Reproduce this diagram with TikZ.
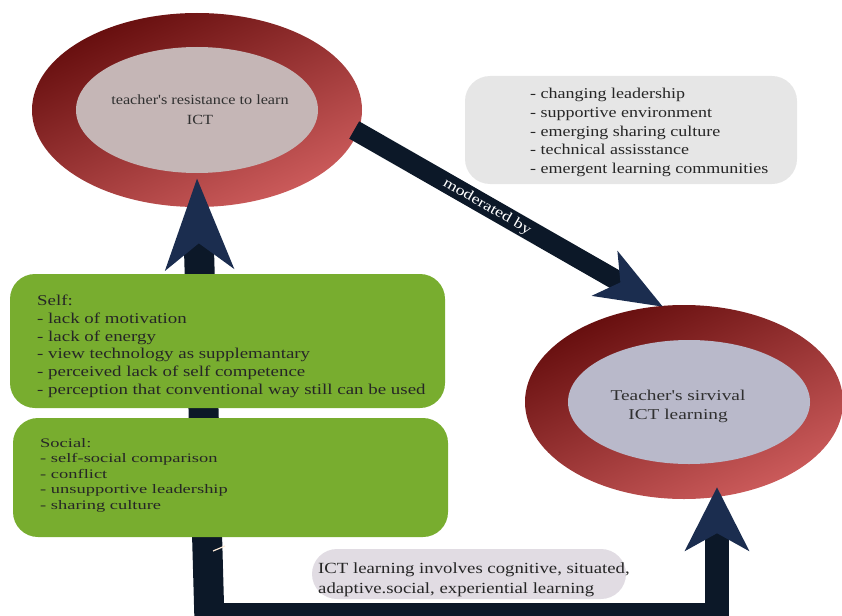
\documentclass[tikz,border=0pt]{standalone}
\usepackage{fontspec}
\setmainfont{Liberation Serif}
\newfontfamily\fTop{Liberation Serif}[FakeStretch=1.16]
\newfontfamily\fBot{Liberation Serif}[FakeStretch=1.29]
\newfontfamily\fGray{Liberation Serif}[FakeStretch=1.2]
\newfontfamily\fSelf{Liberation Serif}[FakeStretch=1.26]
\newfontfamily\fSocial{Liberation Serif}[FakeStretch=1.42]
\newfontfamily\fIct{Liberation Serif}[FakeStretch=1.21]
\newfontfamily\fMod{Liberation Serif}[FakeStretch=1.25]
\usetikzlibrary{shapes.geometric,arrows.meta,calc}
\definecolor{ringdark}{HTML}{650D0D}
\definecolor{ringlight}{HTML}{CD5C5C}
\definecolor{innerA}{HTML}{C5B6B6}
\definecolor{innerB}{HTML}{B9B9CA}
\definecolor{shaftc}{HTML}{0C1828}
\definecolor{headc}{HTML}{1B2D4F}
\definecolor{greenbox}{HTML}{78AD2F}
\definecolor{graybox}{HTML}{E6E6E6}
\definecolor{lavbox}{HTML}{E1DCE3}
\definecolor{txt}{HTML}{303030}
\begin{document}
\begin{tikzpicture}[x=1pt,y=-1pt,
  ring/.style={ellipse, inner sep=0pt, shading=axis, top color=ringdark, bottom color=ringlight, shading angle=25},
  core/.style={ellipse, inner sep=0pt},
  etext/.style={align=center, text=txt, inner sep=0pt},
  gbox/.style={rectangle, rounded corners=25pt, fill=greenbox, inner sep=0pt},
  bbox/.style={rectangle, rounded corners=25pt, inner sep=0pt},
  ltext/.style={align=left, anchor=north west, inner sep=0pt, text=black!85},
  shaft/.style={draw=shaftc, line join=miter},
]
\useasboundingbox (0,0) rectangle (842,615);
\clip (0,0) rectangle (842,615);
% ellipses
\node[ring, minimum width=330pt, minimum height=194pt] (topout) at (197,110) {};
\node[core, fill=innerA, minimum width=242pt, minimum height=126pt] (topin) at (197,110) {};
\node[etext, font=\fTop\fontsize{14}{20}\selectfont] (toptext) at (200,110) {teacher's resistance to learn\\ICT};
\node[ring, minimum width=318pt, minimum height=194pt] (botout) at (684,402) {};
\node[core, fill=innerB, minimum width=242pt, minimum height=124pt] (botin) at (689,402) {};
\node[etext, font=\fBot\fontsize{15}{19}\selectfont] (bottext) at (678,406) {Teacher's sirvival\\ICT learning};
% connectors
\coordinate (lbot) at (210,640);
\coordinate (bl) at (210,615);
\coordinate (br) at (717,615);
\draw[shaft, line width=30pt, -{Stealth[length=90pt,width=67pt,inset=25pt,color=headc]}] (lbot) -- ($(topin.south)+(0,5)$);
\draw[shaft, line width=24pt, -{Stealth[length=63pt,width=63pt,inset=17pt,color=headc]}] (bl) -- (br) -- ($(botout.south)+(33,-12)$);
\draw[shaft, line width=20pt, -{Stealth[length=66pt,width=50pt,inset=17pt,color=headc]}] ($(topout.east)+(-8,20)$) -- ($(botout.north)+(-21,2)$);
\node[rotate=-30, text=white, inner sep=0pt, font=\fMod\fontsize{14.5}{16}\selectfont] (mod) at (487,207) {moderated by};
\draw[white!85!orange, line width=1.2pt] (213,551) -- (225,546);
% boxes
\node[bbox, fill=graybox, minimum width=332pt, minimum height=108pt] (mods) at (631,130) {};
\node[ltext, font=\fGray\fontsize{15}{18.7}\selectfont] (modstext) at (530,88) {- changing leadership\\- supportive environment\\- emerging sharing culture\\- technical assisstance\\- emergent learning communities};
\node[gbox, minimum width=435pt, minimum height=134pt] (self) at (227.5,341) {};
\node[ltext, font=\fSelf\fontsize{15}{17.7}\selectfont] (selftext) at (37,295) {Self:\\- lack of motivation\\- lack of energy\\- view technology as supplemantary\\- perceived lack of self competence\\- perception that conventional way still can be used};
\node[gbox, minimum width=435pt, minimum height=119pt] (social) at (230.5,477.5) {};
\node[ltext, font=\fSocial\fontsize{13}{15.5}\selectfont] (socialtext) at (40,438) {Social:\\- self-social comparison\\- conflict\\- unsupportive leadership\\- sharing culture};
\node[bbox, fill=lavbox, minimum width=314pt, minimum height=50pt] (ictbox) at (469,574) {};
\node[ltext, font=\fIct\fontsize{15.5}{20}\selectfont] (icttext) at (318,563) {ICT learning involves cognitive, situated,\\adaptive.social, experiential learning};
\end{tikzpicture}
\end{document}
